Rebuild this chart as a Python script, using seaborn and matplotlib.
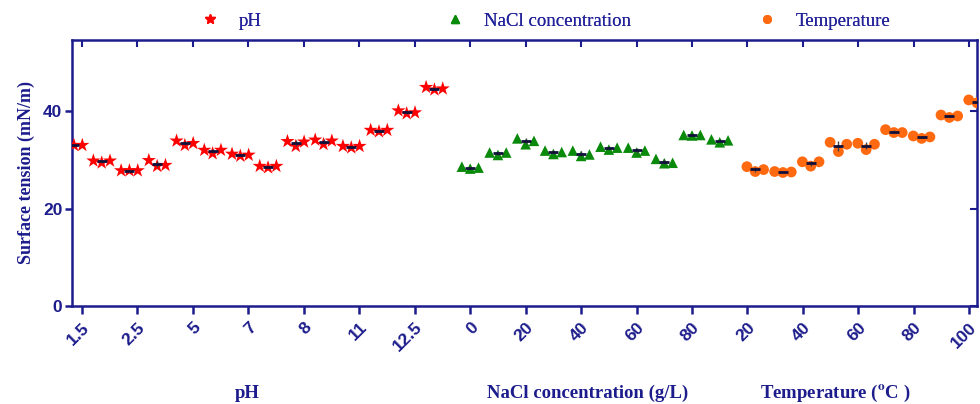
import numpy as np
import pandas as pd
import matplotlib
matplotlib.use("Agg")
import matplotlib.pyplot as plt
import seaborn as sns
from matplotlib.lines import Line2D

# ---------------- data ----------------
tick_labels = ["1.5", "2.5", "5", "7", "8", "11", "12.5",
               "0", "20", "40", "60", "80",
               "20", "40", "60", "80", "100"]

ph_left  = [33.0, 29.8, 27.8, 29.9, 33.9, 32.0, 31.2, 28.7, 33.8, 34.1, 32.8, 36.1, 40.1, 44.9]
ph_mid   = [33.0, 29.4, 27.8, 28.7, 33.0, 31.3, 30.8, 28.4, 32.8, 33.2, 32.5, 35.8, 39.5, 44.4]
ph_right = [33.0, 29.8, 27.8, 28.9, 33.4, 32.0, 31.0, 28.7, 33.7, 33.9, 32.8, 36.1, 39.7, 44.6]

nacl_left  = [28.6, 31.5, 34.4, 31.9, 31.9, 32.7, 32.5, 30.2, 35.1, 34.2]
nacl_mid   = [28.2, 31.0, 33.2, 31.2, 30.8, 32.1, 31.5, 29.3, 35.0, 33.6]
nacl_right = [28.4, 31.5, 33.9, 31.6, 31.1, 32.5, 31.9, 29.4, 35.1, 34.0]

temp_left  = [28.6, 27.6, 29.6, 33.6, 33.4, 36.2, 34.9, 39.2, 42.3]
temp_mid   = [27.6, 27.4, 28.7, 31.7, 32.1, 35.6, 34.4, 38.7, 41.7]
temp_right = [28.0, 27.5, 29.6, 33.2, 33.2, 35.6, 34.7, 39.0, 41.8]

series_names = ["pH", "NaCl concentration", "Temperature"]
group_titles = ["pH", "NaCl concentration (g/L)", r"Temperature ($^{\mathbf{o}}$C )"]

# ---------------- layout / style ----------------
NAVY = "#1c1c8c"
TXT = "#22229a"
starts = [-0.145, 7.0, 12.14]
step = 0.5
spread = 0.15
styles = [dict(marker="*", color="#ff0000", s=115),
          dict(marker="^", color="#0a8a0a", s=58),
          dict(marker="o", color="#ff6a10", s=60)]

values = [(ph_left, ph_mid, ph_right),
          (nacl_left, nacl_mid, nacl_right),
          (temp_left, temp_mid, temp_right)]

rows = []
for name, start, (lv, mv, rv) in zip(series_names, starts, values):
    for i in range(len(mv)):
        for rep, off, arr in (("left", -1, lv), ("right", 1, rv), ("mid", 0, mv)):
            rows.append(dict(series=name, group=i, rep=rep,
                             x=start + step * i + off * spread, value=arr[i]))
df = pd.DataFrame(rows)

sns.set_theme(style="ticks")
plt.rcParams["font.family"] = ["Liberation Sans", "DejaVu Sans"]
plt.rcParams["mathtext.fontset"] = "stix"

fig = plt.figure(figsize=(9.8, 4.04), dpi=100)
ax = fig.add_axes([0.0735, 0.2426, 0.9235, 0.6584])

for name, st in zip(series_names, styles):
    sub = df[df.series == name]
    for rep in ("left", "right", "mid"):
        sns.scatterplot(data=sub[sub.rep == rep], x="x", y="value",
                        marker=st["marker"], color=st["color"], s=st["s"],
                        edgecolor="none", linewidth=0, legend=False,
                        ax=ax, zorder=3, clip_on=True)
    g = sub.groupby("group")
    mean = g["value"].mean()
    sd = g["value"].std()
    xc = sub[sub.rep == "mid"].set_index("group")["x"]
    ax.errorbar(xc.values, mean.values, yerr=sd.values, fmt="_",
                color="#10103a", ecolor="#444444", elinewidth=1.0,
                markersize=7, mew=2.0, capsize=0, zorder=4)

ax.set_xlim(-0.18, 16.14)
ax.set_ylim(0, 54.6)
ticks = np.arange(len(tick_labels))
ax.set_xticks(ticks)
ax.set_xticklabels(tick_labels, rotation=45, ha="right", rotation_mode="anchor",
                   fontsize=12.5, fontweight="bold", color=NAVY)
ax.set_yticks([0, 20, 40])
ax.set_yticklabels(["0", "20", "40"], fontsize=12.5, fontweight="bold", color=NAVY)
ax.set_xlabel("")
ax.set_ylabel("Surface tension (mN/m)", fontsize=13, fontweight="bold",
              family="Liberation Serif", color=NAVY, labelpad=6)

for sp in ax.spines.values():
    sp.set_visible(True)
    sp.set_color(NAVY)
    sp.set_linewidth(1.8)
ax.tick_params(axis="x", direction="out", length=6, width=1.8, color=NAVY, pad=4)
ax.tick_params(axis="y", direction="out", length=5, width=1.8, color=NAVY, pad=2)

top = ax.secondary_xaxis("top")
top.set_xticks(ticks)
top.tick_params(direction="in", length=5, width=1.5, color=NAVY, labeltop=False)
top.spines["top"].set_visible(False)
right = ax.secondary_yaxis("right")
right.set_yticks([0, 20, 40])
right.tick_params(direction="in", length=5, width=1.5, color=NAVY, labelright=False)
right.spines["right"].set_visible(False)

# group labels under the axis
for title, xpix in zip(group_titles, [247, 588, 835]):
    fig.text(xpix / 980, 1 - 393 / 404, title, ha="center", va="center",
             fontsize=13.5, fontweight="bold", family="Liberation Serif", color=NAVY)

# legend entries above the plot
leg_x = [213, 458, 770]
for name, st, xp in zip(series_names, styles, leg_x):
    h = Line2D([], [], linestyle="none", marker=st["marker"], color=st["color"],
               markersize=7 if st["marker"] == "*" else 5.5)
    lg = fig.legend([h], [name], loc="center left",
                    bbox_to_anchor=((xp - 12) / 980, 1 - 21 / 404),
                    frameon=False, handlelength=1.0, handletextpad=1.0,
                    borderpad=0, borderaxespad=0,
                    prop=dict(family="Liberation Serif", size=13.5))
    for t in lg.get_texts():
        t.set_color(TXT)
    fig.add_artist(lg)

fig.savefig("out.png", dpi=100)
